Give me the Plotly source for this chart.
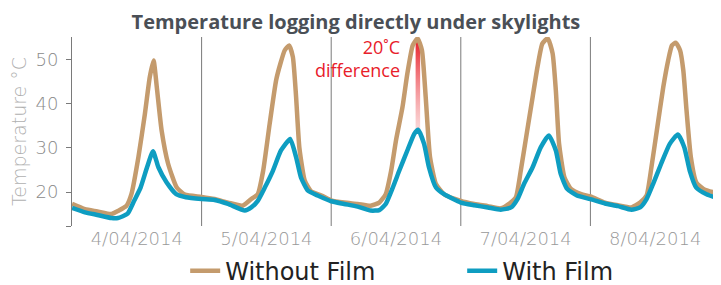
import plotly.graph_objects as go

# ---- data ----
day_labels = ["4/04/2014", "5/04/2014", "6/04/2014", "7/04/2014", "8/04/2014"]

# hours since 00:00 on 4/04/2014
hours_without = [
    0, 2.4, 4.7, 7.3, 8.5, 10.1, 11.0, 12.3, 13.5, 14.4, 15.1, 15.7, 16.6, 17.8, 19.4, 20.9,
    24, 26.4, 28.9, 31.6, 33.2, 34.4, 35.4, 36.6, 37.8, 38.6, 39.4, 40.2, 40.9, 41.5, 42.1, 43.1, 44.3, 46.2,
    48, 50.4, 52.9, 55.3, 56.9, 58.1, 59.1, 60.0, 61.2, 62.1, 63.1, 64.0, 64.8, 65.5, 66.3, 67.4, 68.9,
    72, 74.5, 77.0, 79.4, 81.0, 82.2, 83.1, 84.1, 85.3, 86.2, 87.1, 88.1, 89.0, 89.6, 90.2, 91.2, 92.4, 94.3,
    96, 98.7, 101.1, 103.6, 105.2, 106.4, 107.3, 108.3, 109.5, 110.4, 111.1, 111.8, 112.6, 113.2, 113.8, 114.6, 115.6, 117.2,
    120,
]
temp_without = [
    17.3, 16.1, 15.6, 15.0, 15.7, 16.9, 19.5, 27.9, 37.7, 46.0, 49.8, 43.8, 33.9, 26.4, 21.0, 19.4,
    18.9, 18.4, 17.6, 16.9, 18.4, 19.5, 24.8, 35.4, 45.3, 49.1, 52.1, 53.2, 50.6, 41.5, 30.1, 22.6, 20.1, 19.2,
    18.1, 17.6, 17.3, 16.9, 17.6, 19.5, 24.8, 31.7, 39.2, 46.8, 53.2, 54.8, 52.1, 41.5, 27.9, 21.8, 19.5,
    18.0, 17.3, 16.8, 16.3, 17.4, 18.8, 24.8, 32.4, 41.5, 48.3, 53.6, 54.8, 51.4, 43.0, 30.9, 23.3, 20.7, 19.5,
    19.0, 17.6, 17.0, 16.5, 17.6, 19.2, 25.6, 33.9, 43.8, 49.8, 53.2, 53.8, 52.1, 47.6, 38.5, 27.9, 22.2, 20.5,
    19.6,
]

hours_with = [
    0, 2.4, 4.7, 7.3, 8.5, 10.3, 11.5, 12.7, 13.9, 15.0, 16.0, 17.5, 19.3, 21.1,
    24, 26.4, 28.9, 32.0, 33.2, 34.4, 35.7, 37.2, 38.7, 40.4, 41.5, 42.4, 43.7, 45.5,
    48, 50.4, 52.9, 55.3, 56.9, 58.1, 59.4, 60.6, 62.1, 63.4, 64.1, 65.2, 66.1, 67.4, 68.9,
    72, 74.5, 77.0, 79.4, 81.3, 82.5, 83.7, 85.3, 86.8, 88.3, 89.6, 90.5, 91.7, 93.5,
    96, 98.7, 101.1, 103.6, 105.2, 106.4, 107.6, 109.1, 110.7, 112.2, 113.4, 114.4, 115.6, 117.5,
    120,
]
temp_with = [
    16.4, 15.4, 14.8, 14.1, 14.1, 15.1, 18.0, 21.0, 25.6, 29.2, 25.6, 22.2, 19.5, 18.8,
    18.4, 18.2, 17.3, 15.8, 16.5, 18.0, 21.0, 24.8, 29.4, 32.0, 27.9, 23.3, 20.3, 19.2,
    17.9, 17.3, 16.7, 15.8, 15.9, 17.3, 21.0, 24.8, 29.4, 33.2, 34.1, 30.9, 25.6, 21.0, 19.5,
    17.6, 17.0, 16.5, 16.0, 16.5, 18.4, 21.8, 25.6, 30.1, 32.8, 29.4, 24.1, 20.7, 19.2,
    18.4, 17.4, 16.8, 16.0, 16.5, 18.4, 21.8, 26.4, 30.9, 33.0, 30.1, 24.8, 21.0, 19.5,
    18.4,
]

# 20 degree difference marker (6/04 peak)
diff_hour = 64.05
diff_low = 34.1
diff_high = 54.4
diff_label = "20˚C<br>difference"

TAN = "#C49B6D"
TEAL = "#0E9DC1"
RED = "#E8202A"
GRID = "#7A7A7A"
TICKFONT = "DejaVu Sans"

fig = go.Figure()

# gradient bar
half_w = 0.42
fig.add_trace(go.Scatter(
    x=[diff_hour - half_w, diff_hour + half_w, diff_hour + half_w, diff_hour - half_w, diff_hour - half_w],
    y=[diff_low, diff_low, diff_high, diff_high, diff_low],
    mode="lines", line=dict(width=0), fill="toself",
    fillgradient=dict(type="vertical",
                      colorscale=[[0, "rgba(248,190,190,0.6)"], [1, RED]]),
    hoverinfo="skip", showlegend=False,
))

fig.add_trace(go.Scatter(
    x=hours_without, y=temp_without, name="Without Film", mode="lines",
    line=dict(color=TAN, width=4.5, shape="spline", smoothing=0.5),
))
fig.add_trace(go.Scatter(
    x=hours_with, y=temp_with, name="With Film", mode="lines",
    line=dict(color=TEAL, width=4.5, shape="spline", smoothing=0.5),
))

# day separators
for d in range(1, len(day_labels)):
    fig.add_shape(type="line", xref="x", yref="paper", x0=24 * d, x1=24 * d, y0=0, y1=1,
                  line=dict(color=GRID, width=1), layer="below")

fig.add_annotation(x=0.509, y=0.885, xref="paper", yref="paper", text=diff_label,
                   showarrow=False, xanchor="right", yanchor="middle", align="right",
                   font=dict(family="Open Sans", size=18, color=RED))

# page body has an 8px margin, so the figure is sized to fit the remaining window
fig.update_layout(
    width=713, height=277,
    margin=dict(l=64, r=1, t=29, b=59),
    paper_bgcolor="white", plot_bgcolor="white",
    title=dict(text="<b>Temperature logging directly under skylights</b>",
               x=0.488, xanchor="center", y=0.951, yanchor="middle", yref="container",
               font=dict(family="Open Sans", size=20, color="#4A4F56")),
    showlegend=True,
    legend=dict(orientation="h", xref="container", yref="container",
                x=0.637, xanchor="center", y=0.05, yanchor="middle",
                font=dict(family=TICKFONT, size=24, color="#222222"),
                entrywidth=232, entrywidthmode="pixels"),
    xaxis=dict(range=[0, 120], showgrid=False, zeroline=False, showline=False, automargin=False,
               tickvals=[24 * i + 12 for i in range(len(day_labels))], ticktext=day_labels,
               ticks="", tickfont=dict(family=TICKFONT, size=18, color="#999999", weight=300)),
    yaxis=dict(range=[12.3, 55.1], showgrid=False, zeroline=False, showline=True, automargin=False,
               linecolor=GRID, linewidth=1, ticks="outside", ticklen=5, tickcolor=GRID,
               ticklabelstandoff=4,
               tickvals=[12.3, 20, 30, 40, 50], ticktext=["", "20", "30", "40", "50"],
               tickfont=dict(family=TICKFONT, size=18, color="#8A8A8A", weight=300),
               title=dict(text="Temperature °C", standoff=8,
                          font=dict(family=TICKFONT, size=19, color="#B0B0B0", weight=300))),
)

fig.write_html("out.html")
